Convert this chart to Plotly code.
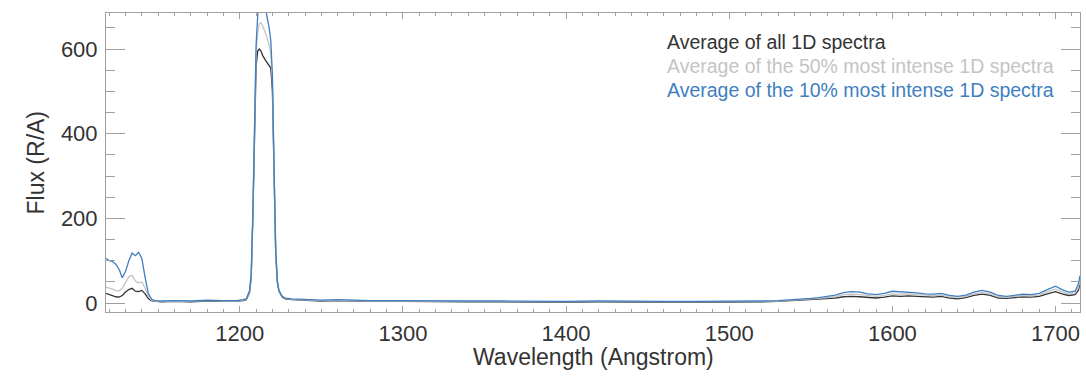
import plotly.graph_objects as go

# Wavelength grid (Angstrom)
wavelength = [1118, 1120, 1122, 1124, 1126, 1128, 1130, 1132, 1134, 1136, 1138, 1140,
              1142, 1144, 1146, 1148, 1152, 1160, 1170, 1180, 1190, 1198, 1202, 1204,
              1206, 1207, 1208, 1209, 1210, 1211, 1212, 1213, 1214, 1216, 1218, 1219,
              1220, 1221, 1222, 1223, 1224, 1226, 1228, 1232, 1240, 1250, 1260, 1270,
              1280, 1300, 1320, 1340, 1360, 1380, 1400, 1420, 1440, 1460, 1480, 1500,
              1520, 1530, 1540, 1550, 1555, 1560, 1565, 1570, 1575, 1580, 1585, 1590,
              1595, 1600, 1605, 1610, 1615, 1620, 1625, 1630, 1635, 1640, 1645, 1650,
              1655, 1660, 1665, 1670, 1675, 1680, 1685, 1690, 1695, 1700, 1704, 1708,
              1712, 1714, 1715]

flux_all = [23, 20, 17, 15, 14, 18, 26, 32, 35, 28, 27, 30,
            22, 10, 5, 4, 3, 4, 3, 5, 4, 4, 6, 8,
            25, 60, 200, 420, 560, 595, 600, 595, 585, 572, 562, 555,
            500, 300, 120, 50, 28, 14, 10, 8, 6, 5, 6, 5,
            4, 4, 3, 3, 3, 2, 2, 3, 2, 2, 2, 2,
            3, 4, 6, 8, 9, 11, 12, 15, 16, 15, 13, 12,
            14, 17, 16, 17, 16, 15, 14, 16, 12, 10, 13, 18,
            21, 18, 12, 11, 13, 15, 14, 16, 22, 27, 22, 18,
            20, 30, 45]

flux_50 = [38, 36, 33, 30, 29, 35, 48, 62, 66, 52, 48, 50,
           35, 15, 7, 5, 4, 5, 4, 6, 5, 5, 7, 9,
           28, 65, 205, 430, 590, 640, 660, 662, 655, 635, 610, 590,
           520, 310, 125, 52, 29, 15, 11, 9, 7, 6, 7, 6,
           5, 5, 4, 4, 4, 3, 3, 4, 3, 3, 3, 3,
           4, 5, 7, 9, 11, 13, 15, 20, 21, 20, 18, 16,
           18, 22, 21, 22, 20, 19, 18, 19, 15, 14, 16, 22,
           25, 22, 15, 14, 16, 18, 17, 19, 27, 33, 27, 22,
           24, 36, 55]

flux_10 = [106, 100, 98, 92, 80, 60, 75, 100, 118, 112, 120, 105,
           60, 22, 9, 6, 5, 6, 5, 7, 6, 6, 8, 10,
           30, 68, 210, 440, 610, 680, 705, 712, 710, 690, 650, 620,
           540, 320, 130, 52, 30, 16, 12, 10, 8, 7, 8, 7,
           6, 6, 5, 5, 5, 4, 4, 5, 4, 4, 4, 4,
           5, 6, 8, 11, 13, 16, 19, 25, 27, 26, 22, 20,
           23, 28, 27, 26, 24, 22, 21, 23, 18, 16, 19, 26,
           30, 26, 18, 16, 19, 21, 20, 23, 32, 40, 32, 26,
           28, 45, 65]

series_names = ["Average of all 1D spectra",
                "Average of the 50% most intense 1D spectra",
                "Average of the 10% most intense 1D spectra"]
series_colors = ["#333333", "#c4c4c4", "#3f7fc0"]
series_values = [flux_all, flux_50, flux_10]

x_ticks = [1200, 1300, 1400, 1500, 1600, 1700]
y_ticks = [0, 200, 400, 600]

FONT = "Liberation Sans, Arial, Helvetica, sans-serif"
AXCOL = "#a0a0a0"
TXTCOL = "#333333"

fig = go.Figure()
for name, color, vals in zip(series_names, series_colors, series_values):
    fig.add_trace(go.Scatter(x=wavelength, y=vals, mode="lines", name=name,
                             line=dict(color=color, width=1.3)))

# legend as coloured text lines
for i, (name, color) in enumerate(zip(series_names, series_colors)):
    fig.add_annotation(x=0.574, y=0.903 - i * 0.081, xref="paper", yref="paper",
                       xanchor="left", yanchor="middle", showarrow=False,
                       text=name, font=dict(family=FONT, size=19.5, color=color))

# axis titles
fig.add_annotation(x=0.5, y=-0.152, xref="paper", yref="paper",
                   xanchor="center", yanchor="middle", showarrow=False,
                   text="Wavelength (Angstrom)",
                   font=dict(family=FONT, size=23, color=TXTCOL))
fig.add_annotation(x=-0.0719, y=0.5, xref="paper", yref="paper",
                   xanchor="center", yanchor="middle", showarrow=False,
                   textangle=-90, text="Flux (R/A)",
                   font=dict(family=FONT, size=23, color=TXTCOL))

axis_common = dict(showline=True, linecolor=AXCOL, linewidth=1, mirror="ticks",
                   ticks="inside", tickcolor=AXCOL, tickwidth=1,
                   showgrid=False, zeroline=False, ticklabeloverflow="allow",
                   tickfont=dict(family=FONT, size=22, color=TXTCOL))

fig.update_xaxes(range=[1118, 1715], tickvals=x_ticks, ticklen=6,
                 ticklabelstandoff=2,
                 minor=dict(dtick=10, ticklen=3, ticks="inside", tickcolor=AXCOL),
                 **axis_common)
fig.update_yaxes(range=[-21, 685], tickvals=y_ticks, ticklen=19,
                 ticklabelstandoff=3,
                 minor=dict(dtick=50, ticklen=9, ticks="inside", tickcolor=AXCOL),
                 **axis_common)

fig.update_layout(width=1086, height=377, showlegend=False,
                  margin=dict(l=106, r=6, t=13, b=65),
                  plot_bgcolor="white", paper_bgcolor="white")

fig.write_html("out.html", config={"displayModeBar": False},
               post_script="document.body.style.margin='0';document.body.style.overflow='hidden';")
